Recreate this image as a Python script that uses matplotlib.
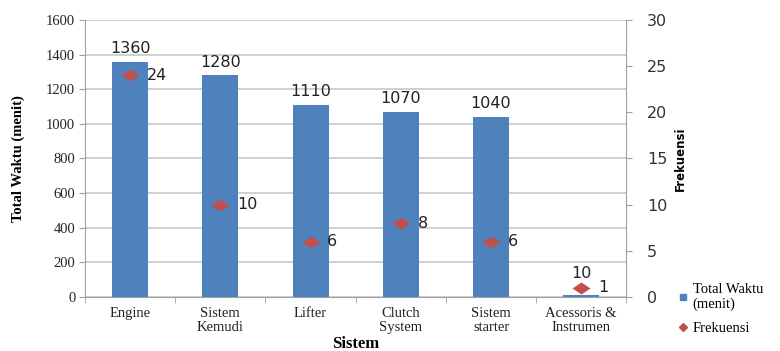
import matplotlib
matplotlib.use("Agg")
import matplotlib.pyplot as plt
import numpy as np
from matplotlib.lines import Line2D

categories = ["Engine", "Sistem\nKemudi", "Lifter", "Clutch\nSystem", "Sistem\nstarter", "Acessoris &\nInstrumen"]
total_waktu = [1360, 1280, 1110, 1070, 1040, 10]
frekuensi = [24, 10, 6, 8, 6, 1]

bar_color = "#4F81BD"
diamond_color = "#C0504D"
grid_color = "#C8C8C8"
serif = ["Liberation Serif", "DejaVu Serif"]
wide_diamond = [(-1.5, 0), (0, 1), (1.5, 0), (0, -1), (-1.5, 0)]

fig = plt.figure(figsize=(7.8, 3.51), dpi=100)
ax = fig.add_axes([0.109, 0.154, 0.694, 0.789])
ax2 = ax.twinx()

x = np.arange(len(categories))
ax.bar(x, total_waktu, width=0.4, color=bar_color, zorder=2)
ax.set_xlim(-0.5, len(categories) - 0.5)
ax.set_ylim(0, 1600)
ax.set_yticks(np.arange(0, 1601, 200))
ax.yaxis.grid(True, color=grid_color, linewidth=1.2, zorder=0)
ax.set_axisbelow(True)
ax.set_xticks(x)
ax.set_xticklabels(categories, fontfamily=serif, fontsize=10.5, color="#222222", linespacing=1.15)
ax.set_xticks(np.arange(-0.5, len(categories), 1), minor=True)
ax.tick_params(axis="x", which="major", length=0, pad=7)
ax.tick_params(axis="x", which="minor", length=4, color="#A0A0A0")
for lbl in ax.get_yticklabels():
    lbl.set_fontfamily(serif)
ax.tick_params(axis="y", labelsize=10.5, length=4, color="#A0A0A0", labelcolor="#222222", pad=3)
ax.set_ylabel("Total Waktu (menit)", fontfamily=serif, fontsize=10.5, fontweight="bold")
ax.yaxis.set_label_coords(-0.11, 0.5)
ax.set_xlabel("Sistem", fontfamily=serif, fontsize=12, fontweight="bold", labelpad=1)

ax.spines["top"].set_visible(False)
ax2.spines["top"].set_visible(False)
ax.spines["right"].set_visible(False)
ax.spines["left"].set_color("#A0A0A0")
ax.spines["bottom"].set_color("#A0A0A0")
ax2.spines["right"].set_color("#A0A0A0")
ax2.spines["left"].set_visible(False)
ax2.spines["bottom"].set_visible(False)

for xi, v in zip(x, total_waktu):
    off = 4 if v > 100 else 10
    ax.annotate(str(v), (xi, v), xytext=(0, off), textcoords="offset points",
                ha="center", va="bottom", fontsize=11.5, color="#222222")

ax2.plot(x, frekuensi, linestyle="none", marker=wide_diamond, markersize=13,
         color=diamond_color, markeredgewidth=0, zorder=3)
ax2.set_ylim(0, 30)
ax2.set_yticks(np.arange(0, 31, 5))
ax2.tick_params(axis="y", labelsize=11.5, length=4, color="#A0A0A0", labelcolor="#333333", pad=11)
ax2.set_ylabel("Frekuensi", fontsize=8.5, fontweight="bold")
ax2.yaxis.set_label_coords(1.088, 0.5)
for xi, v in zip(x, frekuensi):
    ax2.annotate(str(v), (xi, v), xytext=(12, 0), textcoords="offset points",
                 ha="left", va="center", fontsize=11.5, color="#222222")

handles = [Line2D([0], [0], marker="s", linestyle="none", color=bar_color, markersize=5),
           Line2D([0], [0], marker="D", linestyle="none", color=diamond_color, markersize=4)]
fig.legend(handles, ["Total Waktu\n(menit)", "Frekuensi"], loc="lower left",
           bbox_to_anchor=(0.862, 0.03), frameon=False, prop={"family": serif, "size": 10.5},
           handlelength=0.6, handletextpad=0.4, labelspacing=0.7, borderaxespad=0)

fig.savefig("out.png", dpi=100)
